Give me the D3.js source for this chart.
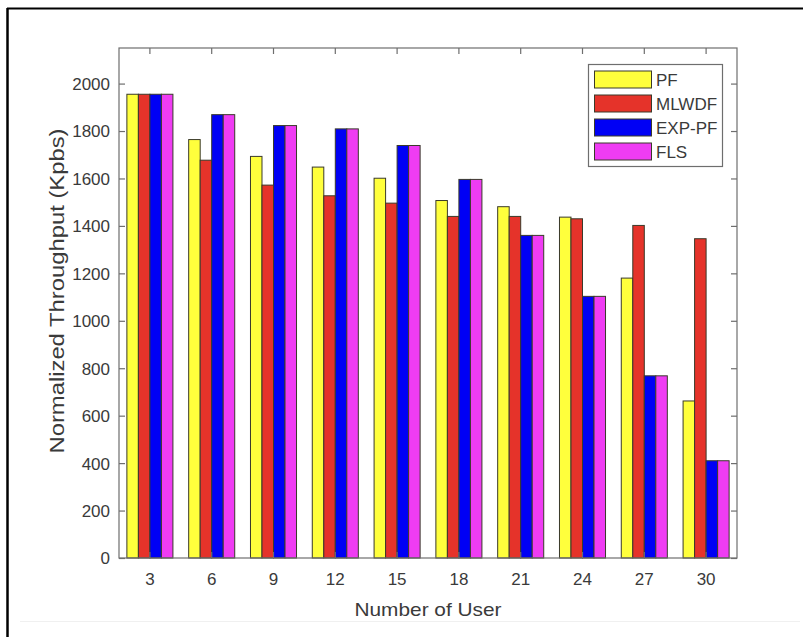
<!DOCTYPE html>
<html><head><meta charset="utf-8">
<script src="https://cdn.jsdelivr.net/npm/d3@7"></script>
<style>body{margin:0;background:#fff}svg{display:block}text{font-family:"Liberation Sans",Arial,sans-serif}</style>
</head><body><svg id="c" width="808" height="637"></svg>
<script>
const users = ["3","6","9","12","15","18","21","24","27","30"];
const seriesNames = ["PF","MLWDF","EXP-PF","FLS"];
const pf    = [1955,1764,1693,1648,1601,1507,1481,1437,1180,662];
const mlwdf = [1955,1677,1572,1527,1496,1440,1440,1430,1402,1346];
const exppf = [1955,1869,1823,1809,1739,1596,1360,1103,768,410];
const fls   = [1955,1869,1823,1809,1739,1596,1360,1103,768,410];
const yTicks = [0,200,400,600,800,1000,1200,1400,1600,1800,2000];
const colors = ["#ffff3c","#e5332a","#0000f5","#ef3cf3"];
const series = [pf, mlwdf, exppf, fls];

const svg = d3.select("#c");
const L=119, R=737, T=48, B=558;
// frame
svg.append("line").attr("x1",7.5).attr("x2",7.5).attr("y1",8).attr("y2",637).attr("stroke","#000").attr("stroke-width",2.5);
svg.append("line").attr("x1",7).attr("x2",803).attr("y1",8.5).attr("y2",8.5).attr("stroke","#000").attr("stroke-width",2);
svg.append("line").attr("x1",20).attr("x2",800).attr("y1",621.5).attr("y2",621.5).attr("stroke","#f0f0f0").attr("stroke-width",1);

const x = d3.scaleBand().domain(users).range([L,R]).paddingInner(0).paddingOuter(0);
const inner = d3.scaleBand().domain(d3.range(4)).range([0, x.bandwidth()*0.745]);
const y = d3.scaleLinear().domain([0,2150]).range([B,T]);
const off = (x.bandwidth() - x.bandwidth()*0.745)/2;

const g = svg.append("g");
series.forEach((s,si)=>{
  g.selectAll(null).data(s).enter().append("rect")
    .attr("x",(d,i)=>x(users[i])+off+inner(si))
    .attr("y",d=>y(d))
    .attr("width",inner.bandwidth())
    .attr("height",d=>B-y(d))
    .attr("fill",colors[si])
    .attr("stroke","#3a3a2a").attr("stroke-width",1);
});

// axes box
const axCol="#6e6e6e";
svg.append("rect").attr("x",L).attr("y",T).attr("width",R-L).attr("height",B-T).attr("fill","none").attr("stroke",axCol).attr("stroke-width",1.2);

const yAxis = d3.axisLeft(y).tickValues(yTicks).tickFormat(d3.format("d")).tickSizeInner(-6).tickSizeOuter(0).tickPadding(9);
const ya = svg.append("g").attr("transform",`translate(${L},0)`).call(yAxis);
const yAxisR = d3.axisRight(y).tickValues(yTicks).tickSizeInner(-6).tickSizeOuter(0).tickFormat("");
const yr = svg.append("g").attr("transform",`translate(${R},0)`).call(yAxisR);
const xAxis = d3.axisBottom(x).tickSizeInner(-6).tickSizeOuter(0).tickPadding(15);
const xa = svg.append("g").attr("transform",`translate(0,${B})`).call(xAxis);
const xAxisT = d3.axisTop(x).tickSizeInner(-6).tickSizeOuter(0).tickFormat("");
const xt = svg.append("g").attr("transform",`translate(0,${T})`).call(xAxisT);
[ya,yr,xa,xt].forEach(a=>{
  a.select(".domain").remove();
  a.selectAll("line").attr("stroke",axCol).attr("stroke-width",1.2);
  a.selectAll("text").attr("fill","#3a3a3a").style("font-size","17px").style("font-family",'"Liberation Sans",Arial,sans-serif');
});
ya.selectAll("text").attr("dy","0.35em");

svg.append("text").attr("x",(L+R)/2).attr("y",616).attr("text-anchor","middle")
  .attr("fill","#3a3a3a").style("font-size","19px")
  .attr("textLength",147).attr("lengthAdjust","spacingAndGlyphs").text("Number of User");
svg.append("text").attr("transform",`translate(64,291) rotate(-90)`).attr("text-anchor","middle")
  .attr("fill","#3a3a3a").style("font-size","20px")
  .attr("textLength",325).attr("lengthAdjust","spacingAndGlyphs").text("Normalized Throughput (Kpbs)");

// legend
const lg = svg.append("g");
lg.append("rect").attr("x",588.5).attr("y",64.5).attr("width",134).attr("height",102)
  .attr("fill","#fff").attr("stroke",axCol).attr("stroke-width",1.2);
seriesNames.forEach((n,i)=>{
  const yy = 71 + i*24;
  lg.append("rect").attr("x",594.5).attr("y",yy).attr("width",57).attr("height",17)
    .attr("fill",colors[i]).attr("stroke","#3a3a2a").attr("stroke-width",1);
  lg.append("text").attr("x",656).attr("y",yy+15).attr("fill","#3a3a3a")
    .style("font-size","17px").text(n);
});
</script></body></html>
